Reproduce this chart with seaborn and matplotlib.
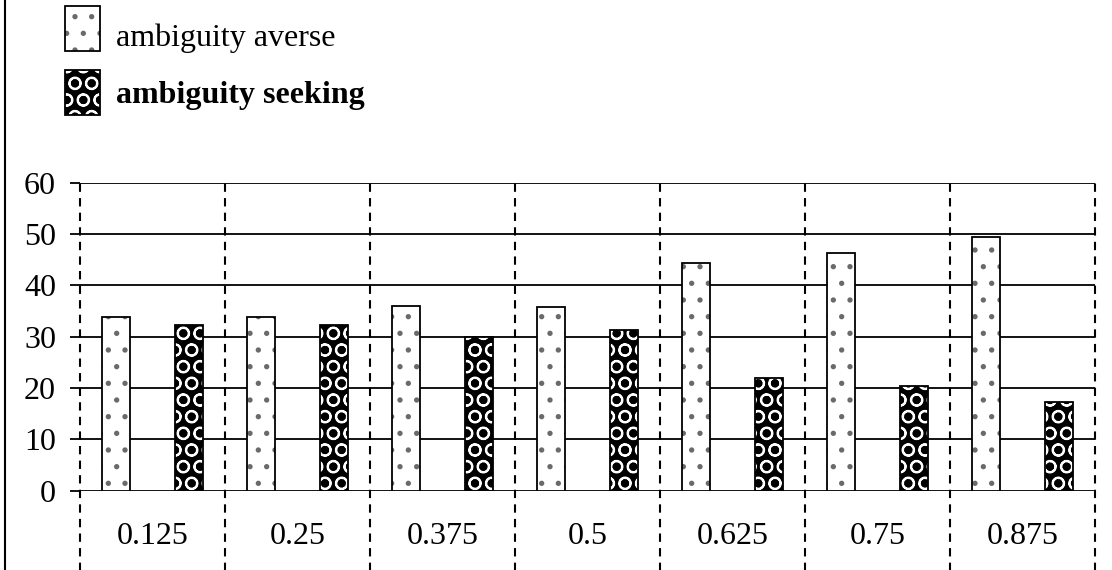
import matplotlib
matplotlib.use("Agg")
import matplotlib.pyplot as plt
from matplotlib.patches import Patch, Rectangle
from matplotlib.lines import Line2D
from matplotlib.legend_handler import HandlerTuple
import seaborn as sns
import pandas as pd

# Share of subjects by attitude, for each probability level
probabilities = ["0.125", "0.25", "0.375", "0.5", "0.625", "0.75", "0.875"]
averse = [33.9, 33.8, 35.9, 35.7, 44.4, 46.2, 49.4]
seeking = [32.2, 32.2, 30.0, 31.2, 21.9, 20.3, 17.3]
groups = ["ambiguity averse", "ambiguity seeking"]
y_ticks = [0, 10, 20, 30, 40, 50, 60]

sns.set_style("white")
plt.rcParams["font.family"] = ["Liberation Serif", "DejaVu Serif"]
plt.rcParams["text.color"] = "black"
plt.rcParams["hatch.linewidth"] = 1.4

FS = 23

df = pd.DataFrame({
    "p": probabilities * 2,
    "value": averse + seeking,
    "group": [groups[0]] * len(averse) + [groups[1]] * len(seeking),
})

fig = plt.figure(figsize=(11.12, 5.70), dpi=100)
ax = fig.add_axes([80 / 1112, 1 - 490.7 / 570, 1015 / 1112, 308.2 / 570])

sns.barplot(data=df, x="p", y="value", hue="group", hue_order=groups,
            order=probabilities, palette=["white", "black"],
            width=1.0, gap=0.62, legend=False, ax=ax, zorder=3)

styles = {
    groups[0]: dict(face="white", hatch=".", hcol="#6a6a6a"),
    groups[1]: dict(face="black", hatch="O", hcol="white"),
}
n = len(probabilities)
for i, bar in enumerate(ax.patches[: 2 * n]):
    st = styles[groups[i // n]]
    bar.set_facecolor(st["face"])
    bar.set_hatch(st["hatch"])
    bar.set_edgecolor(st["hcol"])
    bar.set_linewidth(0)
    ax.add_patch(Rectangle(bar.get_xy(), bar.get_width(), bar.get_height(),
                           fill=False, edgecolor="black", linewidth=1.3,
                           zorder=4))

ax.set_xlim(-0.5, n - 0.5)
ax.set_ylim(0, 60)
ax.set_yticks(y_ticks)
ax.set_xlabel("")
ax.set_ylabel("")
for s in ax.spines.values():
    s.set_visible(False)

ax.set_axisbelow(True)
ax.yaxis.grid(True, color="black", linewidth=1.3)
ax.xaxis.grid(False)
ax.tick_params(axis="y", length=7.2, width=1.3, color="black", pad=10,
               labelsize=FS, labelcolor="black", left=True)
ax.tick_params(axis="x", length=0, pad=22.5, labelsize=FS, labelcolor="black")

# dashed separators between probability levels, running below the axis
for b in range(n + 1):
    ax.axvline(b - 0.5, ymin=-0.26, ymax=1.012, clip_on=False,
               color="black", linewidth=1.5, dashes=(4, 3), zorder=2)

# frame line on the left side of the figure
fig.add_artist(Line2D([4.5 / 1112, 4.5 / 1112], [0, 1],
                      transform=fig.transFigure, color="black", linewidth=1.5))

handles = []
for g in groups:
    st = styles[g]
    fillp = Patch(facecolor=st["face"], edgecolor=st["hcol"], hatch=st["hatch"],
                  linewidth=0)
    outline = Patch(fill=False, edgecolor="black", linewidth=1.3)
    handles.append((fillp, outline))

leg = fig.legend(handles, groups, loc="upper left",
                 bbox_to_anchor=(65 / 1112, 1 - 6 / 570),
                 frameon=False, fontsize=FS, borderpad=0, borderaxespad=0,
                 handlelength=1.1, handleheight=1.79, handletextpad=0.5,
                 labelspacing=0.58, labelcolor="black",
                 handler_map={tuple: HandlerTuple(ndivide=1)})
texts = leg.get_texts()
texts[0].set_y(-7)
texts[1].set_y(-1)
texts[1].set_fontweight("bold")

fig.savefig("out.png", dpi=100)
